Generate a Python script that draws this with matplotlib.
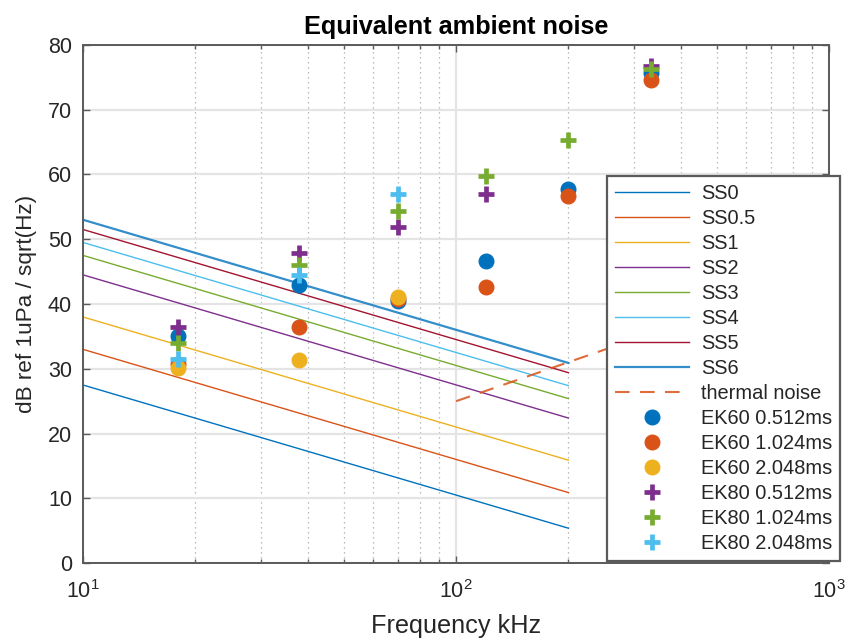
import numpy as np
import matplotlib
matplotlib.use("Agg")
import matplotlib.pyplot as plt
from matplotlib.ticker import LogLocator, NullFormatter

plt.rcParams["font.family"] = ["Liberation Sans", "DejaVu Sans"]
plt.rcParams["mathtext.fontset"] = "custom"
plt.rcParams["mathtext.rm"] = "Liberation Sans"

# --------------------------------------------------
# Data
# --------------------------------------------------
# sea state (Knudsen) curves, level at 10 kHz and 200 kHz
ss_labels = ["SS0", "SS0.5", "SS1", "SS2", "SS3", "SS4", "SS5", "SS6"]
ss_freq = [10, 200]
ss_levels = [
    [27.5, 5.4],
    [33.0, 10.9],
    [38.0, 15.9],
    [44.5, 22.4],
    [47.5, 25.4],
    [49.5, 27.4],
    [51.5, 29.4],
    [53.0, 30.9],
]

# thermal noise
thermal_freq = [100, 1000]
thermal_level = [25.0, 45.0]

# measured equivalent noise
meas_freq = [18, 38, 70, 120, 200, 333]
ek60_0512 = [35.0, 42.9, 40.4, 46.6, 57.7, 75.7]
ek60_1024 = [30.7, 36.4, 40.8, 42.7, 56.7, 74.6]
ek60_2048 = [30.2, 31.3, 41.1, np.nan, np.nan, np.nan]
ek80_0512 = [36.4, 47.8, 51.9, 56.9, np.nan, 76.7]
ek80_1024 = [34.0, 46.0, 54.3, 59.8, 65.3, 76.3]
ek80_2048 = [31.5, 44.4, 56.9, np.nan, np.nan, np.nan]

# --------------------------------------------------
# Style
# --------------------------------------------------
mcols = [
    (0.000, 0.447, 0.741),
    (0.850, 0.325, 0.098),
    (0.929, 0.694, 0.125),
    (0.494, 0.184, 0.556),
    (0.466, 0.674, 0.188),
    (0.301, 0.745, 0.933),
    (0.635, 0.078, 0.184),
]
ss_colors = mcols + [mcols[0]]

fig = plt.figure(figsize=(8.47, 6.40), dpi=100)
ax = fig.add_axes([0.098, 0.120, 0.881, 0.810])

for i, lab in enumerate(ss_labels):
    lw = 1.6 if lab == "SS6" else 1.0
    ax.plot(ss_freq, ss_levels[i], color=ss_colors[i], lw=lw, label=lab,
            alpha=0.8 if lab == "SS6" else 1.0)

ax.plot(thermal_freq, thermal_level, color=mcols[1], lw=1.5, ls=(0, (7, 5)),
        alpha=0.85, label="thermal noise")

series = [
    (ek60_0512, "o", mcols[0], "EK60 0.512ms"),
    (ek60_1024, "o", mcols[1], "EK60 1.024ms"),
    (ek60_2048, "o", mcols[2], "EK60 2.048ms"),
    (ek80_0512, "+", mcols[3], "EK80 0.512ms"),
    (ek80_1024, "+", mcols[4], "EK80 1.024ms"),
    (ek80_2048, "+", mcols[5], "EK80 2.048ms"),
]
for vals, mk, col, lab in series:
    if mk == "o":
        ax.plot(meas_freq, vals, ls="none", marker="o", ms=10.5, color=col,
                mec=col, label=lab)
    else:
        ax.plot(meas_freq, vals, ls="none", marker="+", ms=11, mew=3.4,
                color=col, label=lab)

ax.set_xscale("log")
ax.set_xlim(10, 1000)
ax.set_ylim(0, 80)
ax.set_yticks(np.arange(0, 81, 10))
ax.xaxis.set_minor_locator(LogLocator(base=10, subs=np.arange(2, 10)))
ax.xaxis.set_minor_formatter(NullFormatter())

ax.grid(True, which="major", color="#e4e4e4", lw=1.6, ls="-")
ax.grid(True, which="minor", axis="x", color="#a8a8a8", lw=0.9, ls=(0, (1, 3)))
ax.set_axisbelow(True)

for sp in ax.spines.values():
    sp.set_color("#5a5a5a")
    sp.set_linewidth(1.4)
ax.tick_params(which="both", direction="in", top=True, right=True,
               colors="#5a5a5a", labelcolor="#262626", labelsize=15.5)
ax.tick_params(which="major", length=5, width=1.0)
ax.tick_params(axis="x", which="major", pad=12)
ax.tick_params(axis="y", which="major", pad=8)
ax.tick_params(which="minor", length=3, width=1.0)

ax.set_xlabel("Frequency kHz", fontsize=18.2, color="#262626", labelpad=8)
ax.set_ylabel("dB ref 1uPa / sqrt(Hz)", fontsize=16.2, color="#262626", labelpad=8)
ax.set_title("Equivalent ambient noise", fontsize=18.2, fontweight="bold",
             color="black", pad=8)

leg = ax.legend(loc="upper left", bbox_to_anchor=(0.7167, 0.725),
                bbox_transform=fig.transFigure, borderaxespad=0,
                fontsize=14.4, handlelength=3.7, labelspacing=0.3,
                handletextpad=0.6, borderpad=0.4, fancybox=False,
                framealpha=1, edgecolor="#5a5a5a")
leg.get_frame().set_linewidth(1.6)
for t in leg.get_texts():
    t.set_color("#262626")

fig.savefig("out.png", dpi=100)
